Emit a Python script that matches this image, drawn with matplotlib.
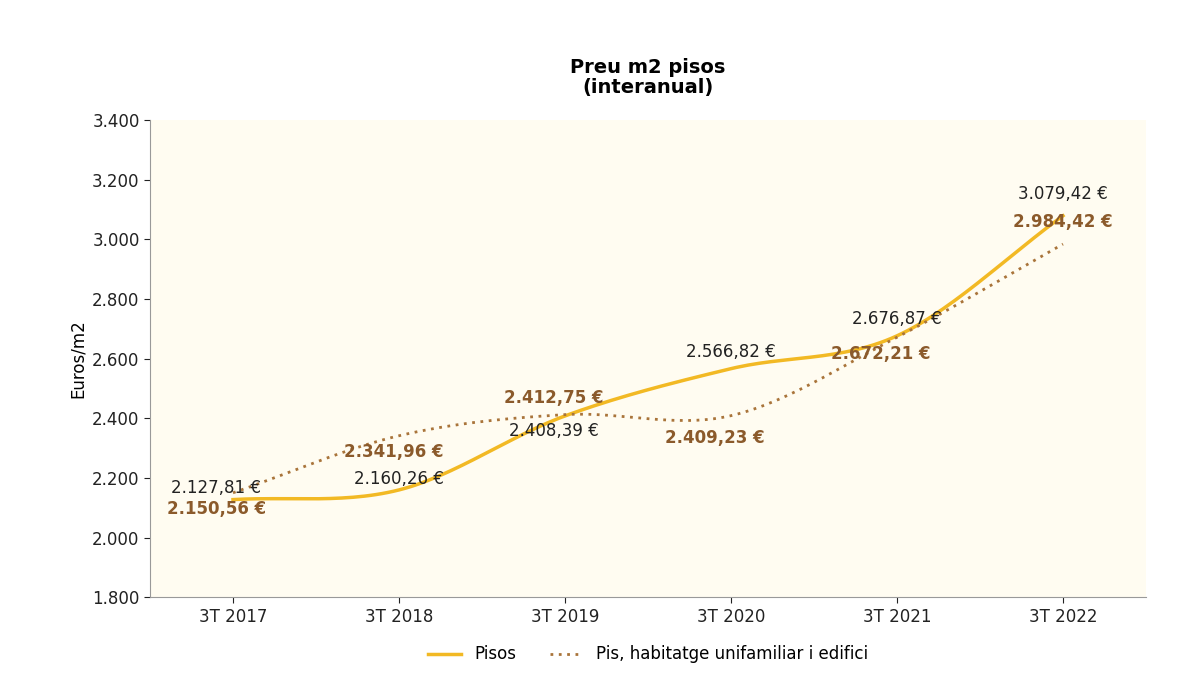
import matplotlib
matplotlib.use("Agg")
import matplotlib.pyplot as plt
import numpy as np

periods = ["3T 2017", "3T 2018", "3T 2019", "3T 2020", "3T 2021", "3T 2022"]
pisos = [2127.81, 2160.26, 2408.39, 2566.82, 2676.87, 3079.42]
pis_hab = [2150.56, 2341.96, 2412.75, 2409.23, 2672.21, 2984.42]


def fmt(v):
    s = f"{v:,.2f}".replace(",", "X").replace(".", ",").replace("X", ".")
    return s + " €"


def smooth(y, n=30):
    # cubic Hermite through the data points (for drawing only)
    y = np.asarray(y, float)
    x = np.arange(len(y))
    m = np.gradient(y)
    xs, ys = [], []
    for i in range(len(y) - 1):
        t = np.linspace(0, 1, n)
        h00 = 2*t**3 - 3*t**2 + 1
        h10 = t**3 - 2*t**2 + t
        h01 = -2*t**3 + 3*t**2
        h11 = t**3 - t**2
        xs.append(x[i] + t)
        ys.append(h00*y[i] + h10*m[i] + h01*y[i+1] + h11*m[i+1])
    return np.concatenate(xs), np.concatenate(ys)


fig = plt.figure(figsize=(12, 6.75), dpi=100)
ax = fig.add_axes([0.125, 0.115, 0.83, 0.707])
ax.set_facecolor("#FFFCF1")
x = np.arange(len(periods))

sx, sy = smooth(pisos)
ax.plot(sx, sy, color="#F2B924", lw=2.5, label="Pisos")
dx, dy = smooth(pis_hab)
ax.plot(dx, dy, color="#A9743A", lw=2, ls=(0, (1, 2)),
        label="Pis, habitatge unifamiliar i edifici")

black_off = [(-12, 8), (0, 8), (-8, -11), (0, 12), (0, 12), (0, 16)]
brown_off = [(-12, -12), (-4, -12), (-8, 12), (-12, -16), (-12, -12), (0, 16)]
for i in range(len(periods)):
    ax.annotate(fmt(pisos[i]), (x[i], pisos[i]), xytext=black_off[i],
                textcoords="offset points", ha="center", va="center",
                fontsize=12, color="#222222")
    ax.annotate(fmt(pis_hab[i]), (x[i], pis_hab[i]), xytext=brown_off[i],
                textcoords="offset points", ha="center", va="center",
                fontsize=12, color="#8B5A2B", fontweight="bold")

ax.set_xlim(-0.5, 5.5)
ax.set_ylim(1800, 3400)
ax.set_xticks(x)
ax.set_xticklabels(periods, fontsize=12)
yt = np.arange(1800, 3401, 200)
ax.set_yticks(yt)
ax.set_yticklabels([f"{v:,}".replace(",", ".") for v in yt], fontsize=12)
ax.set_ylabel("Euros/m2", fontsize=12)
for s in ["top", "right"]:
    ax.spines[s].set_visible(False)
for s in ["left", "bottom"]:
    ax.spines[s].set_color("#999999")
ax.tick_params(colors="#222222", length=4)
fig.text(0.54, 0.885, "Preu m2 pisos\n(interanual)", ha="center", va="center",
         fontsize=14, fontweight="bold", linespacing=1.1)
fig.legend(loc="lower center", ncol=2, frameon=False, fontsize=12,
           bbox_to_anchor=(0.54, -0.005))
fig.savefig("out.png", dpi=100, facecolor="white")
